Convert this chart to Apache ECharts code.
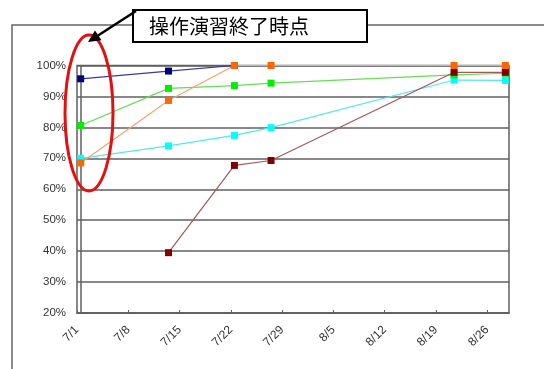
<!DOCTYPE html>
<html>
<head>
<meta charset="utf-8">
<script src="https://cdn.jsdelivr.net/npm/echarts@6/dist/echarts.min.js"></script>
<style>
  html, body { margin: 0; padding: 0; background: #fff; }
  #chart { width: 544px; height: 369px; }
</style>
</head>
<body>
<div id="chart"></div>
<script>
// Tick labels along the date axis
var tickLabels = ['7/1', '7/8', '7/15', '7/22', '7/29', '8/5', '8/12', '8/19', '8/26'];

// Completion rate (%) per group, by date
var navyDates = ['7/1', '7/13', '7/22'];
var navyValues = [95.7, 98.2, 100];

var orangeDates = ['7/1', '7/13', '7/22', '7/27', '8/21', '8/28'];
var orangeValues = [68.5, 88.7, 100, 100, 100, 100];

var greenDates = ['7/1', '7/13', '7/22', '7/27', '8/21', '8/28'];
var greenValues = [80.6, 92.6, 93.5, 94.3, 97.0, 97.5];

var cyanDates = ['7/1', '7/13', '7/22', '7/27', '8/21', '8/28'];
var cyanValues = [70.0, 74.0, 77.4, 79.9, 95.3, 95.2];

var maroonDates = ['7/13', '7/22', '7/27', '8/21', '8/28'];
var maroonValues = [39.5, 67.7, 69.3, 97.8, 97.8];

var calloutText = '操作演習終了時点';

// day number counted from 7/1
function dayIndex(label) {
  var p = label.split('/');
  var m = +p[0], d = +p[1];
  return (m === 7 ? 0 : 31) + d - 1;
}
function dayLabel(idx) {
  return idx < 31 ? '7/' + (idx + 1) : '8/' + (idx - 30);
}
function pairs(dates, values) {
  return dates.map(function (d, i) { return [dayIndex(d), values[i]]; });
}
// each day occupies one unit; ticks sit on the day boundaries
var tickPositions = tickLabels.map(function (l) { return dayIndex(l) - 0.5; });

function lineSeries(name, dates, values, markColor, lineColor) {
  return {
    name: name,
    type: 'line',
    data: pairs(dates, values),
    symbol: 'rect',
    symbolSize: 7,
    itemStyle: { color: markColor },
    lineStyle: { color: lineColor, width: 1.2 },
    emphasis: { disabled: true }
  };
}

var chart = echarts.init(document.getElementById('chart'), null, { renderer: 'canvas' });

var gridColor = '#606060';

chart.setOption({
  animation: false,
  backgroundColor: '#ffffff',
  grid: {
    left: 77, right: 35, top: 65.5, bottom: 56,
    show: true, borderColor: gridColor, borderWidth: 1.5, backgroundColor: 'transparent'
  },
  xAxis: {
    type: 'value',
    min: -0.5,
    max: 58.5,
    axisLine: { show: true, lineStyle: { color: gridColor, width: 1.5 } },
    axisTick: { show: true, inside: true, length: 3, customValues: tickPositions, lineStyle: { color: gridColor } },
    splitLine: { show: false },
    axisLabel: {
      customValues: tickPositions,
      rotate: 45,
      margin: 15,
      fontFamily: 'Liberation Sans, Arial, sans-serif',
      fontSize: 12,
      color: '#333',
      formatter: function (v) { return dayLabel(Math.round(v + 0.5)); }
    }
  },
  yAxis: {
    type: 'value',
    min: 20,
    max: 100,
    interval: 10,
    axisLine: { show: true, lineStyle: { color: gridColor, width: 1.5 } },
    axisTick: { show: false },
    splitLine: { show: true, lineStyle: { color: gridColor, width: 1.5 } },
    axisLabel: {
      margin: 11,
      fontFamily: 'Liberation Sans, Arial, sans-serif',
      fontSize: 11.5,
      color: '#333',
      formatter: function (v) { return v + '%'; }
    }
  },
  series: [
    lineSeries('navy', navyDates, navyValues, '#000080', '#3a3aa0'),
    lineSeries('cyan', cyanDates, cyanValues, '#00ffff', '#55e8e8'),
    lineSeries('green', greenDates, greenValues, '#00ee00', '#66dd55'),
    lineSeries('maroon', maroonDates, maroonValues, '#800000', '#a05a5a'),
    lineSeries('orange', orangeDates, orangeValues, '#ff6600', '#f4a470')
  ],
  graphic: [
    // outer frame of the figure
    {
      type: 'rect', z: 1,
      shape: { x: 12, y: 25, width: 620, height: 420 },
      style: { fill: 'none', stroke: '#666', lineWidth: 1.5 }
    },
    // red ellipse around the first survey date
    {
      type: 'ellipse', z: 100,
      shape: { cx: 89, cy: 113, rx: 24, ry: 78 },
      style: { fill: 'none', stroke: '#e41010', lineWidth: 3 }
    },
    // callout box
    {
      type: 'rect', z: 101,
      shape: { x: 133, y: 10, width: 234, height: 32 },
      style: { fill: '#fff', stroke: '#000', lineWidth: 2 }
    },
    {
      type: 'text', z: 102,
      style: {
        x: 149, y: 26,
        text: calloutText,
        font: '20px "Noto Sans CJK JP", sans-serif',
        fill: '#000',
        textVerticalAlign: 'middle',
        verticalAlign: 'middle'
      }
    },
    // arrow from the callout to the ellipse
    {
      type: 'line', z: 102,
      shape: { x1: 136, y1: 11, x2: 98, y2: 35.5 },
      style: { stroke: '#000', lineWidth: 2.5 }
    },
    {
      type: 'polygon', z: 102,
      shape: { points: [[88, 42], [101.5, 40.2], [95, 30.5]] },
      style: { fill: '#000' }
    }
  ]
});
</script>
</body>
</html>
